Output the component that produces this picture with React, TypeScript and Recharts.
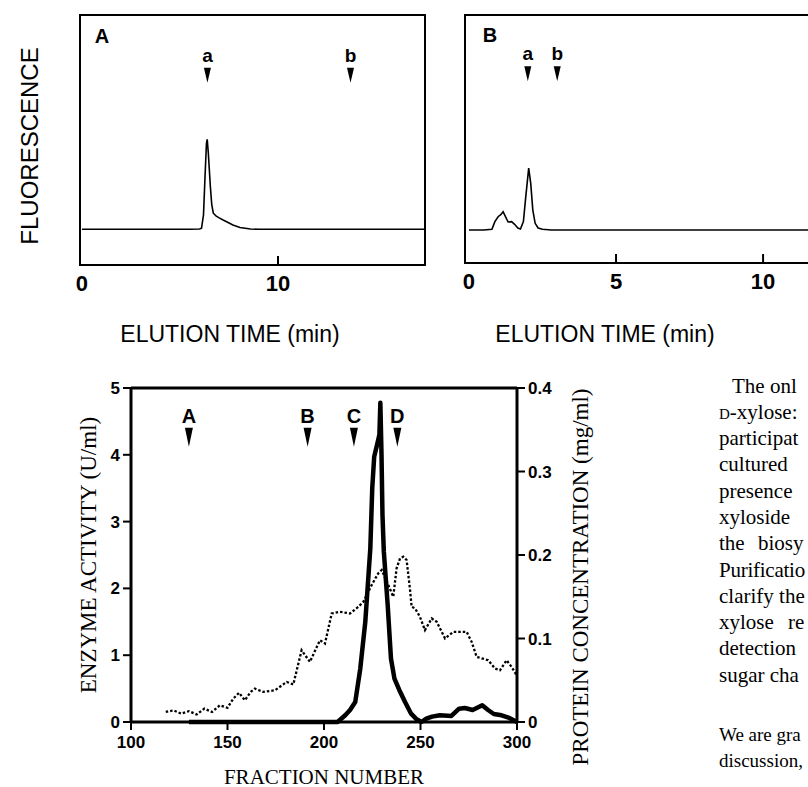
import React from 'react';
import { LineChart, Line, XAxis, YAxis, ReferenceArea, ReferenceDot, ReferenceLine } from 'recharts';

// ---------- Panel A (HPLC, elution time in min vs fluorescence) ----------
const panelATime = [0, 2, 4, 5.5, 6.0, 6.1, 6.2, 6.28, 6.35, 6.39, 6.45, 6.55, 6.62, 6.7, 6.85, 7.0, 7.2, 7.38, 7.7, 8.06, 8.6, 9, 10, 12, 14, 16, 17.5];
const panelASignal = [0, 0, 0, 0, 0.01, 0.03, 0.4, 1.5, 2.4, 2.52, 2.1, 1.2, 0.7, 0.45, 0.37, 0.32, 0.26, 0.21, 0.12, 0.05, 0.01, 0, 0, 0, 0, 0, 0];
const panelAMarkers = ['a', 'b'];
const panelAMarkerTimes = [6.4, 13.7];
const panelATicks = [0, 10];

// ---------- Panel B ----------
const panelBTime = [0, 0.5, 0.78, 0.88, 0.99, 1.08, 1.16, 1.24, 1.33, 1.45, 1.55, 1.66, 1.75, 1.85, 1.93, 2.03, 2.1, 2.17, 2.25, 2.35, 2.5, 2.8, 5, 8, 10, 13];
const panelBSignal = [0, 0, 0.02, 0.25, 0.4, 0.46, 0.55, 0.4, 0.24, 0.25, 0.17, 0.06, 0.03, 0.25, 1.0, 1.87, 1.4, 0.6, 0.2, 0.06, 0.02, 0, 0, 0, 0, 0];
const panelBMarkers = ['a', 'b'];
const panelBMarkerTimes = [2.0, 3.0];
const panelBTicks = [0, 5, 10];

// ---------- Bottom: column fractions ----------
const enzymeFraction = [130, 150, 170, 190, 207, 211, 213.5, 216.2, 218.8, 221.4, 224, 225, 226, 227.5, 228.7, 229.2, 229.8, 230.3, 231, 233, 234.7, 236.5, 239, 242, 245, 248, 250.5, 253, 256, 260, 266, 270, 273, 277, 282, 285, 288, 292, 296, 300];
const enzymeActivity = [0, 0, 0, 0, 0, 0.1, 0.18, 0.3, 0.8, 1.5, 2.6, 3.5, 3.97, 4.15, 4.3, 4.78, 4.0, 3.1, 2.55, 1.75, 0.95, 0.65, 0.48, 0.3, 0.13, 0.04, 0, 0.05, 0.08, 0.1, 0.09, 0.2, 0.21, 0.18, 0.25, 0.18, 0.12, 0.1, 0.06, 0];

const proteinFraction = [118, 122, 126, 130, 134, 138, 142, 146, 150, 153, 156, 159, 162, 164.2, 168.5, 174.6, 180.7, 184.1, 188.4, 192.7, 197.9, 200.5, 204, 208.3, 213.5, 217.8, 220.4, 224.7, 228.1, 229.9, 233.3, 235.9, 237.6, 239.4, 241.1, 242.8, 244.6, 245.4, 247.2, 249.7, 252.3, 255.8, 258.4, 262.7, 267, 273.9, 276.5, 279.1, 285.1, 288.6, 291.2, 294.6, 297.2, 299.8];
const proteinConc = [0.012, 0.014, 0.01, 0.013, 0.009, 0.016, 0.012, 0.02, 0.017, 0.028, 0.035, 0.026, 0.036, 0.04, 0.036, 0.038, 0.048, 0.045, 0.086, 0.072, 0.098, 0.094, 0.13, 0.132, 0.13, 0.138, 0.144, 0.164, 0.178, 0.182, 0.164, 0.15, 0.184, 0.196, 0.198, 0.194, 0.158, 0.138, 0.136, 0.126, 0.11, 0.124, 0.12, 0.1, 0.108, 0.108, 0.096, 0.078, 0.074, 0.064, 0.062, 0.074, 0.066, 0.056];

const fractionMarkers = ['A', 'B', 'C', 'D'];
const fractionMarkerPos = [130, 191.5, 215.5, 238];
const fractionTicks = [100, 150, 200, 250, 300];
const activityTicks = [0, 1, 2, 3, 4, 5];
const proteinTicks = [0, 0.1, 0.2, 0.3, 0.4];

// visible (page-clipped) fragments of the adjacent body text
const paragraphLines = ['The onl', 'D-xylose:', 'participat', 'cultured', 'presence', 'xyloside', 'the biosy', 'Purificatio', 'clarify the', 'xylose re', 'detection', 'sugar cha'];
const paragraph2Lines = ['We are gra', 'discussion,'];

const SANS = "'Liberation Sans', Arial, sans-serif";
const SERIF = "'Liberation Serif', 'Times New Roman', serif";

const dataA = panelATime.map((t, i) => ({ x: t, f: panelASignal[i] }));
const dataB = panelBTime.map((t, i) => ({ x: t, f: panelBSignal[i] }));
const enzymeData = enzymeFraction.map((x, i) => ({ x, v: enzymeActivity[i] }));
const proteinData = proteinFraction.map((x, i) => ({ x, v: proteinConc[i] }));

const InwardTick = (props: any) => {
  const { x, y, payload } = props;
  return (
    <g>
      {payload.value !== 0 && <line x1={x} x2={x} y1={y} y2={y - 9} stroke="#000" strokeWidth={2} />}
      <text x={x} y={y + 26} textAnchor="middle" fontFamily={SANS} fontWeight="bold" fontSize={22} fill="#000">
        {payload.value}
      </text>
    </g>
  );
};

const SmallMarker = (props: any) => {
  const { cx, cy, label } = props;
  return (
    <g>
      <text x={cx} y={cy - 21} textAnchor="middle" fontFamily={SANS} fontWeight="bold" fontSize={19} fill="#000">{label}</text>
      <polygon points={`${cx - 3.5},${cy - 15} ${cx + 3.5},${cy - 15} ${cx},${cy}`} fill="#000" />
    </g>
  );
};

const BigMarker = (props: any) => {
  const { cx, cy, label } = props;
  return (
    <g>
      <text x={cx} y={cy - 24} textAnchor="middle" fontFamily={SANS} fontWeight="bold" fontSize={20} fill="#000">{label}</text>
      <polygon points={`${cx - 4},${cy - 19} ${cx + 4},${cy - 19} ${cx},${cy}`} fill="#000" />
    </g>
  );
};

const abs = (left: number, top: number, extra: React.CSSProperties = {}): React.CSSProperties => ({
  position: 'absolute', left, top, transform: 'translate(-50%, -50%)', whiteSpace: 'nowrap', lineHeight: 1, color: '#000', ...extra,
});

export default function App() {
  const A_X: [number, number] = [-0.1, 17.5];
  const A_Y: [number, number] = [-1, 6];
  const B_X: [number, number] = [-0.136, 13.16];
  const B_Y: [number, number] = [-1, 6.5];
  return (
    <div style={{ position: 'absolute', left: 0, top: 0, width: 808, height: 787, overflow: 'hidden', background: '#fff' }}>
      {/* Panel A */}
      <div style={{ position: 'absolute', left: 0, top: 0 }}>
        <LineChart width={440} height={360} data={dataA} margin={{ top: 15, right: 15, bottom: 65, left: 80 }}>
          <XAxis dataKey="x" type="number" domain={A_X} allowDataOverflow ticks={panelATicks} interval={0}
            axisLine={false} tickLine={false} tickSize={0} tickMargin={0} height={30} tick={<InwardTick />} />
          <YAxis hide domain={A_Y} allowDataOverflow />
          <ReferenceArea x1={A_X[0]} x2={A_X[1]} y1={A_Y[0]} y2={A_Y[1]} fill="none" stroke="#000" strokeWidth={2} ifOverflow="visible" />
          <Line dataKey="f" type="linear" stroke="#000" strokeWidth={1.6} dot={false} isAnimationActive={false} />
          {panelAMarkerTimes.map((t, i) => (
            <ReferenceDot key={i} x={t} y={4.1} r={0} ifOverflow="visible"
              shape={(p: any) => <SmallMarker {...p} label={panelAMarkers[i]} />} />
          ))}
        </LineChart>
      </div>

      {/* Panel B */}
      <div style={{ position: 'absolute', left: 440, top: 0 }}>
        <LineChart width={430} height={360} data={dataB} margin={{ top: 15, right: 14, bottom: 67, left: 25 }}>
          <XAxis dataKey="x" type="number" domain={B_X} allowDataOverflow ticks={panelBTicks} interval={0}
            axisLine={false} tickLine={false} tickSize={0} tickMargin={0} height={30} tick={<InwardTick />} />
          <YAxis hide domain={B_Y} allowDataOverflow />
          <ReferenceArea x1={B_X[0]} x2={B_X[1]} y1={B_Y[0]} y2={B_Y[1]} fill="none" stroke="#000" strokeWidth={2} ifOverflow="visible" />
          <Line dataKey="f" type="linear" stroke="#000" strokeWidth={1.6} dot={false} isAnimationActive={false} />
          {panelBMarkerTimes.map((t, i) => (
            <ReferenceDot key={i} x={t} y={4.5} r={0} ifOverflow="visible"
              shape={(p: any) => <SmallMarker {...p} label={panelBMarkers[i]} />} />
          ))}
        </LineChart>
      </div>

      {/* Bottom chart */}
      <div style={{ position: 'absolute', left: 0, top: 370 }}>
        <LineChart width={620} height={417} margin={{ top: 18, right: 43, bottom: 35, left: 71 }}>
          <XAxis dataKey="x" type="number" domain={[100, 300]} ticks={fractionTicks} interval={0} height={30}
            tickSize={8} tickMargin={6}
            axisLine={{ stroke: '#000', strokeWidth: 3 }} tickLine={{ stroke: '#000', strokeWidth: 2 }}
            tick={{ fontFamily: SANS, fontWeight: 'bold', fontSize: 17, fill: '#000' }} />
          <YAxis yAxisId="left" domain={[0, 5]} ticks={activityTicks} interval={0} width={60}
            tickSize={8} tickMargin={3}
            axisLine={{ stroke: '#000', strokeWidth: 3 }} tickLine={{ stroke: '#000', strokeWidth: 2 }}
            tick={{ fontFamily: SANS, fontWeight: 'bold', fontSize: 17, fill: '#000' }} />
          <YAxis yAxisId="right" orientation="right" domain={[0, 0.4]} ticks={proteinTicks} interval={0} width={60}
            tickSize={8} tickMargin={3}
            tickFormatter={(v: number) => (v === 0 ? '0' : v.toFixed(1))}
            axisLine={{ stroke: '#000', strokeWidth: 3 }} tickLine={{ stroke: '#000', strokeWidth: 2 }}
            tick={{ fontFamily: SANS, fontWeight: 'bold', fontSize: 17, fill: '#000' }} />
          <ReferenceLine yAxisId="left" y={5} stroke="#000" strokeWidth={3} ifOverflow="visible" />
          <Line yAxisId="right" data={proteinData} dataKey="v" type="linear" stroke="#000" strokeWidth={2.3}
            strokeDasharray="2.5 2" dot={false} isAnimationActive={false} />
          <Line yAxisId="left" data={enzymeData} dataKey="v" type="linear" stroke="#000" strokeWidth={4.5}
            strokeLinejoin="round" dot={false} isAnimationActive={false} />
          {fractionMarkerPos.map((f, i) => (
            <ReferenceDot key={i} yAxisId="left" x={f} y={4.12} r={0} ifOverflow="visible"
              shape={(p: any) => <BigMarker {...p} label={fractionMarkers[i]} />} />
          ))}
        </LineChart>
      </div>

      {/* Titles and labels */}
      <div style={abs(30, 146, { fontFamily: SANS, fontSize: 24, transform: 'translate(-50%, -50%) rotate(-90deg)' })}>FLUORESCENCE</div>
      <div style={abs(102, 36, { fontFamily: SANS, fontSize: 20, fontWeight: 'bold' })}>A</div>
      <div style={abs(490, 35, { fontFamily: SANS, fontSize: 20, fontWeight: 'bold' })}>B</div>
      <div style={abs(230, 334, { fontFamily: SANS, fontSize: 23 })}>ELUTION TIME (min)</div>
      <div style={abs(605, 334, { fontFamily: SANS, fontSize: 23 })}>ELUTION TIME (min)</div>
      <div style={abs(88, 555, { fontFamily: SERIF, fontSize: 23, transform: 'translate(-50%, -50%) rotate(-90deg)' })}>ENZYME ACTIVITY (U/ml)</div>
      <div style={abs(580, 577, { fontFamily: SERIF, fontSize: 23, transform: 'translate(-50%, -50%) rotate(-90deg)' })}>PROTEIN CONCENTRATION (mg/ml)</div>
      <div style={abs(324, 777, { fontFamily: SERIF, fontSize: 21 })}>FRACTION NUMBER</div>

      {/* Body text beside the figure (only the part visible on the page) */}
      <div style={{ position: 'absolute', left: 719, top: 372.5, fontFamily: SERIF, fontSize: 21, lineHeight: '26.3px', whiteSpace: 'nowrap', color: '#000' }}>
        {paragraphLines.map((line, i) => (
          <div key={i} style={{
            textIndent: i === 0 ? 13 : 0,
            wordSpacing: line.startsWith('the ') ? 8 : line.startsWith('xylose ') ? 9 : 0,
            letterSpacing: line.startsWith('Purif') ? -0.25 : 0,
          }}>
            {line.startsWith('D-') ? (<><span style={{ fontVariant: 'small-caps' }}>d</span>{line.slice(1)}</>) : line}
          </div>
        ))}
      </div>
      <div style={{ position: 'absolute', left: 719, top: 722, fontFamily: SERIF, fontSize: 19, lineHeight: '26px', whiteSpace: 'nowrap', color: '#000' }}>
        {paragraph2Lines.map((line, i) => (<div key={i}>{line}</div>))}
      </div>
    </div>
  );
}
